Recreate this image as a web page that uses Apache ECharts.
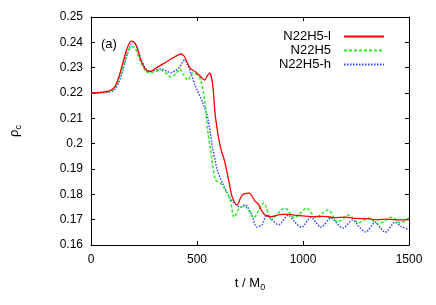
<!DOCTYPE html>
<html><head><meta charset="utf-8">
<script src="https://cdn.jsdelivr.net/npm/echarts@6/dist/echarts.min.js"></script>
<style>html,body{margin:0;padding:0;background:#fff}#c{width:436px;height:305px}</style>
</head><body><div id="c"></div>
<script>
var xTicks = [0, 500, 1000, 1500];
var yTicks = [0.16, 0.17, 0.18, 0.19, 0.2, 0.21, 0.22, 0.23, 0.24, 0.25];
var names = ['N22H5-l', 'N22H5', 'N22H5-h'];

var tRed = [0,40,84,110,130,150,170,190,200,215,235,260,280,310,350,390,424,440,466,494,520,536,550,559,573,587,610,629,652,666,689,713,745,772,790,805,821,850,880,914,960,1000,1050,1100,1150,1200,1250,1300,1350,1400,1458,1500];
var vRed = [0.2200,0.2202,0.2207,0.2222,0.2260,0.2318,0.2375,0.2405,0.2403,0.2385,0.2330,0.2290,0.2285,0.2300,0.2320,0.2340,0.2354,0.2345,0.2299,0.2283,0.2262,0.2251,0.2270,0.2279,0.2240,0.2105,0.1987,0.1935,0.1845,0.1790,0.1758,0.1797,0.1805,0.1775,0.1760,0.1735,0.1718,0.1712,0.1718,0.1722,0.1718,0.1715,0.1712,0.1713,0.1708,0.1710,0.1705,0.1704,0.1700,0.1702,0.1699,0.1700];

var tGreen = [0,40,84,110,130,150,170,190,200,215,235,260,280,300,331,360,377,400,419,435,456,480,512,536,550,564,587,610,634,657,675,700,727,768,790,815,852,885,914,960,990,1016,1062,1090,1118,1164,1190,1216,1262,1285,1309,1355,1390,1420,1458,1500];
var vGreen = [0.2200,0.2202,0.2206,0.2218,0.2250,0.2300,0.2355,0.2383,0.2382,0.2365,0.2320,0.2285,0.2280,0.2285,0.2290,0.2275,0.2263,0.2275,0.2295,0.2275,0.2251,0.2279,0.2263,0.2172,0.2054,0.1975,0.1857,0.1845,0.1817,0.1778,0.1710,0.1745,0.1752,0.1707,0.1735,0.1766,0.1700,0.1728,0.1746,0.1707,0.1728,0.1746,0.1707,0.1725,0.1738,0.1690,0.1705,0.1718,0.1687,0.1697,0.1707,0.1683,0.1698,0.1710,0.1687,0.1707];

var tBlue = [0,40,84,110,130,150,170,190,200,215,235,260,280,300,331,360,377,400,419,433,442,456,466,494,526,550,573,596,620,652,675,704,727,759,782,806,829,855,885,931,960,992,1039,1060,1085,1132,1160,1188,1234,1265,1295,1341,1365,1388,1435,1465,1500];
var vBlue = [0.2200,0.2201,0.2203,0.2212,0.2240,0.2290,0.2350,0.2395,0.2400,0.2385,0.2335,0.2295,0.2285,0.2290,0.2295,0.2285,0.2280,0.2290,0.2303,0.2325,0.2330,0.2310,0.2290,0.2224,0.2164,0.2105,0.1987,0.1896,0.1845,0.1790,0.1766,0.1750,0.1758,0.1718,0.1671,0.1679,0.1718,0.1698,0.1680,0.1718,0.1692,0.1670,0.1710,0.1690,0.1670,0.1707,0.1685,0.1667,0.1699,0.1672,0.1651,0.1690,0.1668,0.1650,0.1690,0.1672,0.1660];

function zip(t, v) { return t.map(function (x, i) { return [x, v[i]]; }); }

var font = 'Liberation Sans, Arial, sans-serif';
var chart = echarts.init(document.getElementById('c'), null, {renderer: 'canvas'});

function xAx(pos, show) {
  return {
    type: 'value', position: pos, min: xTicks[0], max: xTicks[xTicks.length - 1], interval: 500,
    axisLine: {show: true, onZero: false, lineStyle: {color: '#000', width: 1}},
    axisTick: {show: true, inside: true, length: 4, lineStyle: {color: '#000'}},
    axisLabel: {show: show, color: '#000', fontFamily: font, fontSize: 12, margin: 9,
      formatter: function (v) { return String(v); }},
    splitLine: {show: false}
  };
}
function yAx(pos, show) {
  return {
    type: 'value', position: pos, min: yTicks[0], max: yTicks[yTicks.length - 1], interval: 0.01,
    axisLine: {show: true, onZero: false, lineStyle: {color: '#000', width: 1}},
    axisTick: {show: true, inside: true, length: 4, lineStyle: {color: '#000'}},
    axisLabel: {show: show, color: '#000', fontFamily: font, fontSize: 12, margin: 8,
      formatter: function (v) { return String(+v.toFixed(2)); }},
    splitLine: {show: false}
  };
}

var xa = xAx('bottom', true);
xa.name = '{a|t / M}{s|0}';
xa.nameLocation = 'middle';
xa.nameGap = 30;
xa.nameTextStyle = {rich: {a: {fontFamily: font, fontSize: 13, color: '#000'}, s: {fontFamily: font, fontSize: 9, color: '#000', verticalAlign: 'bottom', padding: [8, 0, 0, 0]}}};
var ya = yAx('left', true);
ya.name = '{a|ρ}{s|c}';
ya.nameLocation = 'middle';
ya.nameGap = 68;
ya.nameRotate = 90;
ya.nameTextStyle = {rich: {a: {fontFamily: font, fontSize: 13, color: '#000'}, s: {fontFamily: font, fontSize: 9, color: '#000', verticalAlign: 'bottom', padding: [8, 0, 0, 0]}}};

chart.setOption({
  animation: false,
  backgroundColor: '#fff',
  title: {text: '(a)', left: 96, top: 33, textStyle: {fontFamily: font, fontSize: 13, fontWeight: 'normal', color: '#000'}},
  grid: {left: 87, right: 27, top: 17, bottom: 60},
  legend: {
    orient: 'vertical', right: 46, top: 25, align: 'right', itemWidth: 40, itemHeight: 10, itemGap: 1,
    itemStyle: {opacity: 0},
    textStyle: {fontFamily: font, fontSize: 13, color: '#000', padding: [0, 8, 0, 0]},
    data: names
  },
  xAxis: [xa, xAx('top', false)],
  yAxis: [ya, yAx('right', false)],
  series: [
    {name: names[0], type: 'line', smooth: 0.3, showSymbol: false, symbol: 'none', data: zip(tRed, vRed), z: 3,
     lineStyle: {color: '#ff0000', width: 1.3}, itemStyle: {color: '#ff0000'}},
    {name: names[1], type: 'line', smooth: 0.3, showSymbol: false, symbol: 'none', data: zip(tGreen, vGreen), z: 2,
     lineStyle: {color: '#22ee22', width: 1.5, type: [3, 2]}, itemStyle: {color: '#22ee22'}},
    {name: names[2], type: 'line', smooth: 0.3, showSymbol: false, symbol: 'none', data: zip(tBlue, vBlue), z: 1,
     lineStyle: {color: '#3344ff', width: 1.5, type: [1.5, 1.5]}, itemStyle: {color: '#3344ff'}}
  ]
});
</script></body></html>
